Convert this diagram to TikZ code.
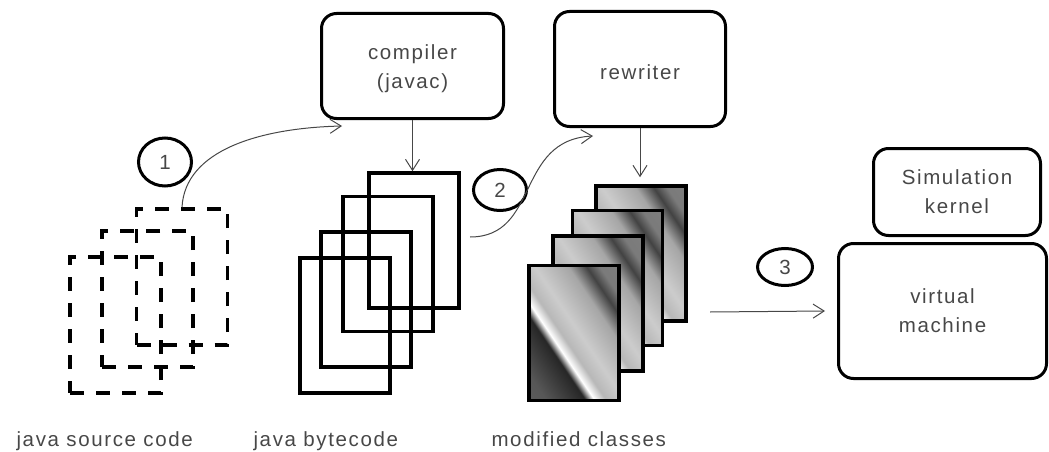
\documentclass[tikz,border=0pt]{standalone}
\usepackage{fontspec}
\setmainfont{Liberation Sans}[LetterSpace=8]
\usetikzlibrary{arrows.meta,shapes.geometric}

% brushed-metal look for the rewritten class files
\pgfdeclarehorizontalshading{metal}{100bp}{%
  color(0bp)=(black!60); color(22bp)=(black!66); color(37bp)=(black!85);
  color(40.5bp)=(white); color(45bp)=(black!28); color(52bp)=(black!20);
  color(65bp)=(black!35); color(72bp)=(black!74); color(77bp)=(black!52);
  color(100bp)=(black!48)}

\begin{document}
\begin{tikzpicture}[x=1pt,y=-1pt,
  txt/.style={text=black!72, font=\fontsize{20.5}{29}\selectfont},
  procbox/.style={draw, line width=3pt, rounded corners=15pt, txt, align=center, inner sep=0pt},
  stepnum/.style={ellipse, draw, line width=3pt, txt, inner sep=0pt},
  srcfile/.style={draw, line width=3.5pt, dash pattern=on 14pt off 12pt,
    minimum width=91pt, minimum height=136pt, inner sep=0pt},
  bytefile/.style={draw, line width=3.5pt, minimum width=90pt, minimum height=135pt, inner sep=0pt},
  modfile/.style={draw, line width=3.5pt, shading=metal, shading angle=34,
    minimum width=90pt, minimum height=135pt, inner sep=0pt},
  flow/.style={draw=black!72, line width=1pt, -{Straight Barb[length=11pt,width=14pt]}},
  caption/.style={txt, anchor=base west}]
\useasboundingbox (0,0) rectangle (1049,452);

% processing stages
\node[procbox, minimum width=182pt, minimum height=105pt] (compiler) at (412.5,66) {};
\node[txt, align=center] (compilertxt) at (412.5,69) {compiler\\(javac)};
\node[procbox, minimum width=171pt, minimum height=115pt] (rewriter) at (640,69) {};
\node[txt] (rewritertxt) at (640,72) {rewriter};
\node[procbox, minimum width=167pt, minimum height=87pt] (kernel) at (957,192) {Simulation\\kernel};
\node[procbox, minimum width=208pt, minimum height=135pt] (vm) at (942.5,311) {virtual\\machine};

% source files (dashed)
\node[srcfile] (s3) at (182,277) {};
\node[srcfile] (s2) at (147.5,299) {};
\node[srcfile] (s1) at (115.5,325) {};

% bytecode files (outlines overlap)
\node[bytefile] (b4) at (414,240.5) {};
\node[bytefile] (b3) at (388,264) {};
\node[bytefile] (b2) at (366,299.5) {};
\node[bytefile] (b1) at (345,325.5) {};

% modified class files (stacked, opaque)
\node[modfile] (m4) at (641,253.5) {};
\node[modfile] (m3) at (617.5,278) {};
\node[modfile] (m2) at (598,303.5) {};
\node[modfile] (m1) at (574,333) {};

% step markers
\node[stepnum, minimum width=53pt, minimum height=48pt] (n1) at (165,162) {1};
\node[stepnum, minimum width=53pt, minimum height=41pt] (n2) at (500,190) {2};
\node[stepnum, minimum width=55pt, minimum height=37pt] (n3) at (785,267) {3};

% connectors
\coordinate (in1) at (342,126);
\coordinate (in2) at (593,136);
\coordinate (out2) at (470,237);
\coordinate (out3) at (710,312);
\draw[flow] (s3.north) .. controls (185,150) and (260,128) .. (in1);
\draw[flow] (compiler.south) -- (compiler.south |- b4.north);
\draw[flow] (out2) .. controls (540,237) and (515,140) .. (in2);
\draw[flow, shorten >=7pt] (rewriter.south) -- (rewriter.south |- m4.north);
\draw[flow] (out3) -- ([xshift=-12pt]vm.west);

% captions
\node[caption] (capsrc) at (13,446) {java source code};
\node[caption] (capbyte) at (250,446) {java bytecode};
\node[caption] (capmod) at (488,446) {modified classes};
\end{tikzpicture}
\end{document}
